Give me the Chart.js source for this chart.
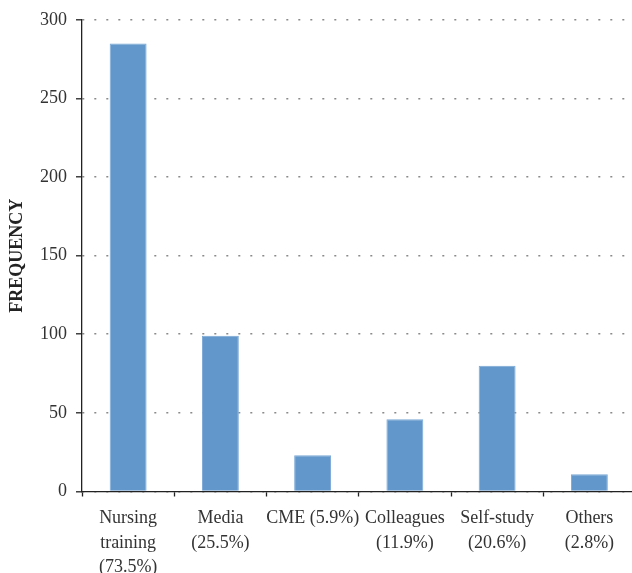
<!DOCTYPE html>
<html>
<head>
<meta charset="utf-8">
<script src="https://cdn.jsdelivr.net/npm/chart.js@4/dist/chart.umd.min.js"></script>
<style>
  html, body { margin: 0; padding: 0; background: #fff; overflow: hidden; width: 632px; height: 573px; }
  #wrap { width: 640px; height: 573px; position: relative; }
</style>
</head>
<body>
<div id="wrap"><canvas id="c"></canvas></div>
<script>
const categories = [
  ["Nursing", "training", "(73.5%)"],
  ["Media", "(25.5%)"],
  ["CME (5.9%)"],
  ["Colleagues", "(11.9%)"],
  ["Self-study", "(20.6%)"],
  ["Others", "(2.8%)"]
];
const frequency = [285, 99, 23, 46, 80, 11];
const yTicks = [0, 50, 100, 150, 200, 250, 300];
const yTitle = "FREQUENCY";

const serif = "'Liberation Serif', 'DejaVu Serif', serif";

new Chart(document.getElementById('c'), {
  type: 'bar',
  data: {
    labels: categories,
    datasets: [{
      data: frequency,
      backgroundColor: '#6197cb',
      borderColor: '#7aa8d5',
      borderWidth: 1,
      barPercentage: 0.4,
      categoryPercentage: 1.0
    }]
  },
  options: {
    responsive: true,
    maintainAspectRatio: false,
    animation: false,
    layout: { padding: { left: 0, right: 4.5, top: 15.5, bottom: 0 } },
    plugins: { legend: { display: false }, tooltip: { enabled: false } },
    scales: {
      x: {
        grid: {
          display: true,
          offset: true,
          drawOnChartArea: false,
          drawTicks: true,
          tickLength: 5,
          tickColor: '#222',
          tickWidth: 1.3
        },
        border: { display: true, color: '#222', width: 1.3 },
        ticks: {
          color: '#333',
          font: { family: serif, size: 18, lineHeight: 1.35 },
          maxRotation: 0,
          minRotation: 0,
          autoSkip: false,
          padding: 10
        },
        afterFit(scale) { scale.height = 81.5; }
      },
      y: {
        min: 0,
        max: 300,
        afterBuildTicks(scale) { scale.ticks = yTicks.map(v => ({ value: v })); },
        grid: {
          display: true,
          drawOnChartArea: true,
          drawTicks: true,
          tickLength: 6,
          color: '#8a8a8a',
          lineWidth: 1.6,
          tickColor: '#222',
          tickWidth: 1.3
        },
        border: { display: true, color: '#222', width: 1.3, dash: [2, 10] },
        ticks: {
          color: '#333',
          font: { family: serif, size: 18 },
          padding: 9
        },
        title: {
          display: true,
          text: yTitle,
          color: '#222',
          font: { family: serif, size: 18, weight: 'bold' },
          padding: { top: 7, bottom: 0 }
        },
        afterFit(scale) { scale.width = 82; }
      }
    }
  }
});
</script>
</body>
</html>
